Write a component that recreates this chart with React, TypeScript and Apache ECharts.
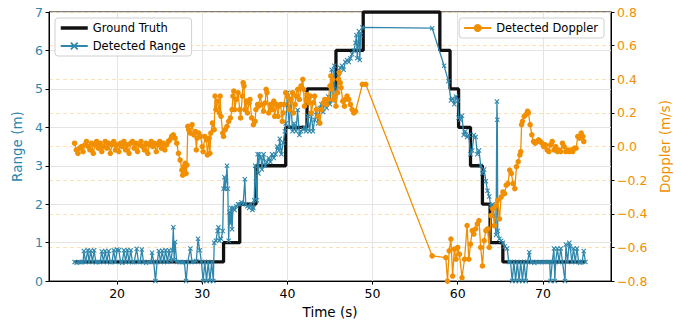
import React, { useEffect, useRef } from 'react';
import * as echarts from 'echarts';

const BLUE = '#2E86AB';
const ORANGE = '#F18F01';
const FONT = 'DejaVu Sans';

// Ground truth: level starts (time, range)
const gtTime = [15, 32.5, 34.4, 36.3, 39.8, 42.3, 45.7, 48.9, 57.9, 59.1, 60.1, 61.5, 62.9, 63.8, 65.3, 75];
const gtLevel = [0.5, 1, 2, 3, 4, 5, 6, 7, 6, 5, 4, 3, 2, 1, 0.5, 0.5];

// Detected range (time s, range m)
const rangeData: [number, number][] = [
  [15.0, 0.5], [15.25, 0.48], [15.5, 0.5], [15.75, 0.49], [16.0, 0.5], [16.1, 0.78], [16.3, 0.5], [16.55, 0.8],
  [16.7, 0.5], [16.9, 0.79], [17.1, 0.5], [17.3, 0.8], [17.5, 0.49], [17.75, 0.5], [18.0, 0.5], [18.2, 0.77],
  [18.4, 0.5], [18.6, 0.78], [18.8, 0.5], [19.0, 0.78], [19.2, 0.49], [19.4, 0.5], [19.6, 0.8], [19.8, 0.5],
  [20.0, 0.82], [20.2, 0.8], [20.4, 0.5], [20.6, 0.48], [20.8, 0.8], [21.0, 0.5], [21.2, 0.81], [21.4, 0.5],
  [21.6, 0.8], [21.8, 0.49], [22.0, 0.5], [22.3, 0.84], [22.5, 0.5], [22.7, 0.5], [22.9, 0.82], [23.1, 0.5],
  [23.4, 0.48], [23.7, 0.5], [24.0, 0.5], [24.1, 0.74], [24.3, 0.5], [24.5, 0.0], [24.7, 0.5], [24.9, 0.78],
  [25.1, 0.5], [25.3, 0.79], [25.5, 0.5], [25.7, 0.8], [25.9, 0.5], [26.1, 0.8], [26.3, 0.52], [26.5, 0.8],
  [26.6, 1.4], [26.7, 0.55], [26.8, 1.02], [27.0, 0.5], [27.3, 0.5], [27.6, 0.49], [27.9, 0.5], [28.1, 0.0],
  [28.3, 0.5], [28.6, 0.85], [28.8, 0.5], [29.1, 0.5], [29.3, 0.52], [29.5, 1.1], [29.7, 0.8], [29.9, 0.5],
  [30.1, 0.0], [30.3, 0.5], [30.5, 0.0], [30.7, 0.5], [30.9, 0.0], [31.1, 0.5], [31.3, 0.0], [31.4, 1.0],
  [31.6, 1.05], [31.8, 1.3], [31.9, 1.4], [32.0, 1.05], [32.2, 1.1], [32.4, 1.3], [32.5, 2.4], [32.6, 2.7],
  [32.7, 2.4], [32.8, 2.6], [32.9, 3.0], [33.0, 2.4], [33.1, 1.05], [33.2, 1.8], [33.3, 1.5], [33.4, 1.9],
  [33.5, 1.35], [33.6, 1.9], [33.8, 1.85], [34.0, 1.95], [34.2, 2.0], [34.4, 2.0], [34.6, 2.05], [34.8, 2.0],
  [35.0, 2.65], [35.1, 2.0], [35.3, 1.95], [35.5, 1.9], [35.7, 2.0], [35.9, 1.85], [36.0, 1.9], [36.1, 2.1],
  [36.2, 3.0], [36.3, 2.6], [36.4, 2.1], [36.5, 3.3], [36.6, 2.8], [36.7, 3.3], [36.9, 3.2], [37.0, 2.9],
  [37.2, 3.3], [37.4, 3.0], [37.6, 3.1], [37.8, 3.2], [38.0, 3.1], [38.2, 3.3], [38.4, 3.2], [38.6, 3.3],
  [38.8, 3.5], [39.0, 3.4], [39.1, 3.7], [39.3, 3.3], [39.5, 3.6], [39.7, 3.9], [39.8, 4.1], [40.0, 4.9],
  [40.2, 4.0], [40.4, 4.7], [40.6, 3.9], [40.8, 4.1], [41.0, 3.9], [41.2, 4.45], [41.4, 3.8], [41.6, 3.9],
  [41.8, 3.95], [42.0, 4.0], [42.2, 3.9], [42.4, 4.3], [42.6, 3.9], [42.8, 4.35], [43.0, 3.9], [43.2, 4.2],
  [43.4, 4.4], [43.6, 4.1], [43.8, 4.5], [44.0, 4.6], [44.2, 4.4], [44.4, 4.7], [44.6, 4.5], [44.8, 4.8],
  [45.0, 4.6], [45.2, 5.5], [45.3, 4.7], [45.5, 5.6], [45.6, 4.8], [45.8, 5.0], [46.0, 5.4], [46.2, 5.55],
  [46.4, 5.6], [46.6, 5.5], [46.8, 5.7], [47.0, 5.75], [47.2, 5.7], [47.4, 5.8], [47.6, 5.9], [47.8, 6.0],
  [48.0, 6.2], [48.1, 6.4], [48.2, 5.8], [48.4, 6.5], [48.5, 5.75], [48.6, 6.4], [48.8, 6.6], [57.0, 6.58],
  [58.4, 5.6], [58.9, 5.2], [59.2, 4.7], [59.4, 4.75], [59.6, 4.6], [59.8, 4.8], [60.0, 4.7], [60.1, 4.25],
  [60.3, 4.2], [60.5, 4.3], [60.7, 3.8], [60.9, 3.9], [61.1, 3.75], [61.3, 3.8], [61.5, 3.3], [61.7, 3.4],
  [61.9, 3.8], [62.1, 3.75], [62.3, 3.3], [62.5, 3.4], [62.7, 3.0], [62.9, 2.8], [63.1, 2.9], [63.3, 2.6],
  [63.5, 2.35], [63.7, 2.2], [63.9, 1.95], [64.1, 2.0], [64.3, 1.7], [64.5, 1.2], [64.6, 4.67], [64.65, 4.2],
  [64.7, 1.3], [64.9, 1.1], [65.1, 1.05], [65.3, 1.0], [65.5, 0.9], [65.8, 0.85], [66.0, 0.5], [66.2, 0.5],
  [66.4, 0.0], [66.6, 0.5], [66.8, 0.0], [67.0, 0.5], [67.2, 0.0], [67.4, 0.5], [67.6, 0.0], [67.8, 0.5],
  [68.0, 0.0], [68.2, 0.5], [68.4, 0.75], [68.6, 0.5], [68.8, 0.5], [69.0, 0.48], [69.3, 0.5], [69.6, 0.5],
  [69.9, 0.49], [70.2, 0.5], [70.5, 0.5], [70.8, 0.5], [70.9, 0.0], [71.1, 0.5], [71.3, 0.85], [71.4, 0.0],
  [71.5, 0.5], [71.7, 0.85], [71.9, 0.5], [72.1, 0.85], [72.3, 0.5], [72.6, 0.0], [72.7, 0.95], [72.9, 0.5],
  [73.1, 1.0], [73.2, 0.9], [73.4, 0.5], [73.6, 0.85], [73.8, 0.5], [74.0, 0.85], [74.2, 0.5], [74.4, 0.48],
  [74.6, 0.5], [74.8, 0.78], [75.0, 0.5],
];

// Detected Doppler (time s, velocity m/s)
const dopplerData: [number, number][] = [
  [15.0, 0.02], [15.2, -0.02], [15.4, -0.04], [15.6, -0.01], [15.8, 0.0], [16.0, -0.03], [16.2, 0.01], [16.4, 0.03],
  [16.6, 0.0], [16.8, -0.02], [17.0, 0.02], [17.2, -0.04], [17.4, 0.01], [17.6, 0.03], [17.8, -0.01], [18.0, 0.02],
  [18.2, -0.03], [18.4, 0.0], [18.6, 0.03], [18.8, -0.01], [19.0, 0.02], [19.2, -0.04], [19.4, 0.01], [19.6, 0.03],
  [19.8, -0.02], [20.0, 0.01], [20.2, -0.03], [20.4, 0.02], [20.6, 0.0], [20.8, 0.03], [21.0, -0.02], [21.2, 0.01],
  [21.4, -0.04], [21.6, 0.02], [21.8, 0.03], [22.0, -0.01], [22.2, 0.02], [22.4, -0.03], [22.6, 0.01], [22.8, 0.03],
  [23.0, 0.0], [23.2, -0.02], [23.4, 0.02], [23.6, -0.04], [23.8, 0.01], [24.0, 0.03], [24.2, 0.0], [24.4, 0.02],
  [24.6, -0.03], [24.8, 0.01], [25.0, 0.03], [25.2, -0.01], [25.4, 0.02], [25.6, -0.02], [25.8, 0.01], [26.0, 0.03],
  [26.2, 0.04], [26.4, 0.06], [26.6, 0.07], [26.8, 0.05], [27.0, 0.02], [27.2, -0.04], [27.4, -0.08], [27.6, -0.14],
  [27.7, -0.17], [27.8, -0.12], [27.9, -0.15], [28.0, -0.1], [28.1, -0.16], [28.2, -0.11], [28.3, 0.12], [28.4, 0.1],
  [28.6, 0.08], [28.8, 0.13], [29.0, 0.07], [29.2, 0.09], [29.3, -0.02], [29.4, 0.05], [29.6, 0.08], [29.8, 0.06],
  [30.0, 0.0], [30.1, -0.03], [30.3, 0.06], [30.5, 0.04], [30.6, -0.05], [30.8, 0.05], [30.9, -0.04], [31.0, 0.08],
  [31.2, 0.14], [31.4, 0.1], [31.5, 0.3], [31.6, 0.22], [31.8, 0.27], [32.0, 0.2], [32.1, 0.3], [32.2, 0.18],
  [32.4, 0.08], [32.5, 0.06], [32.7, 0.1], [32.9, 0.12], [33.1, 0.15], [33.3, 0.17], [33.5, 0.22], [33.6, 0.3],
  [33.7, 0.33], [33.8, 0.22], [34.0, 0.28], [34.2, 0.32], [34.4, 0.22], [34.5, 0.17], [34.7, 0.3], [34.8, 0.38],
  [34.9, 0.36], [35.0, 0.22], [35.2, 0.27], [35.3, 0.2], [35.5, 0.26], [35.6, 0.28], [35.8, 0.17], [36.0, 0.13],
  [36.2, 0.15], [36.3, 0.22], [36.5, 0.25], [36.6, 0.24], [36.8, 0.3], [37.0, 0.25], [37.2, 0.21], [37.4, 0.26],
  [37.5, 0.34], [37.6, 0.32], [37.8, 0.2], [38.0, 0.25], [38.2, 0.22], [38.4, 0.27], [38.5, 0.18], [38.7, 0.25],
  [38.9, 0.18], [39.0, 0.24], [39.2, 0.25], [39.4, 0.15], [39.5, 0.2], [39.6, 0.25], [39.8, 0.32], [40.0, 0.3],
  [40.2, 0.22], [40.4, 0.28], [40.6, 0.32], [40.7, 0.2], [40.9, 0.25], [41.0, 0.3], [41.2, 0.34], [41.4, 0.28],
  [41.6, 0.36], [41.8, 0.4], [41.9, 0.34], [42.0, 0.24], [42.2, 0.28], [42.3, 0.31], [42.5, 0.26], [42.7, 0.3],
  [42.8, 0.2], [43.0, 0.26], [43.2, 0.3], [43.4, 0.22], [43.6, 0.18], [43.8, 0.14], [44.0, 0.22], [44.2, 0.26],
  [44.4, 0.28], [44.6, 0.25], [44.8, 0.28], [45.0, 0.36], [45.1, 0.42], [45.2, 0.34], [45.3, 0.4], [45.4, 0.28],
  [45.5, 0.3], [45.7, 0.24], [45.9, 0.32], [46.0, 0.4], [46.1, 0.44], [46.2, 0.38], [46.3, 0.35], [46.5, 0.27],
  [46.7, 0.24], [46.8, 0.28], [47.0, 0.3], [47.2, 0.28], [47.4, 0.25], [47.6, 0.22], [47.8, 0.2], [48.0, 0.21],
  [48.8, 0.37], [49.2, 0.37], [57.0, -0.65], [58.6, -0.66], [58.8, -0.8], [59.0, -0.62], [59.2, -0.55], [59.4, -0.77],
  [59.6, -0.61], [59.8, -0.67], [60.0, -0.6], [60.2, -0.64], [60.5, -0.78], [60.8, -0.67], [61.1, -0.47], [61.3, -0.67],
  [61.5, -0.58], [61.7, -0.5], [61.9, -0.52], [62.1, -0.49], [62.3, -0.46], [62.5, -0.44], [62.7, -0.6], [62.9, -0.71],
  [63.1, -0.56], [63.3, -0.5], [63.5, -0.49], [63.7, -0.6], [63.9, -0.41], [64.1, -0.37], [64.3, -0.47], [64.5, -0.35],
  [64.7, -0.32], [64.9, -0.43], [65.1, -0.3], [65.3, -0.27], [65.5, -0.28], [65.7, -0.23], [65.9, -0.22], [66.1, -0.14],
  [66.3, -0.16], [66.5, -0.22], [66.7, -0.25], [66.9, -0.12], [67.1, -0.09], [67.3, -0.05], [67.4, -0.03], [67.5, 0.13],
  [67.6, 0.15], [67.8, 0.18], [68.0, 0.19], [68.2, 0.21], [68.3, 0.2], [68.5, 0.13], [68.7, 0.07], [68.9, 0.03],
  [69.1, 0.02], [69.3, 0.03], [69.5, 0.04], [69.7, 0.03], [69.9, 0.02], [70.1, 0.0], [70.3, 0.01], [70.5, -0.02],
  [70.7, -0.03], [70.9, 0.01], [71.1, 0.03], [71.3, -0.02], [71.5, 0.0], [71.7, -0.03], [71.9, -0.02], [72.1, -0.03],
  [72.3, 0.02], [72.5, 0.0], [72.7, -0.03], [72.9, -0.02], [73.1, -0.03], [73.3, -0.02], [73.5, -0.03], [73.7, -0.01],
  [73.9, -0.01], [74.1, 0.06], [74.3, 0.05], [74.5, 0.08], [74.7, 0.06], [74.8, 0.03],
];

const xTicks = [20, 30, 40, 50, 60, 70];

const X_MARK = 'path://M0,1.5L1.5,0L5,3.5L8.5,0L10,1.5L6.5,5L10,8.5L8.5,10L5,6.5L1.5,10L0,8.5L3.5,5Z';

const fmtSigned = (v: number) => {
  const s = Math.abs(v).toFixed(1);
  return v < -1e-9 ? '\u2212' + s : s;
};

export default function App() {
  const ref = useRef<HTMLDivElement>(null);
  useEffect(() => {
    document.body.style.margin = '0';
    if (!ref.current) return;
    const chart = echarts.init(ref.current, undefined, { renderer: 'svg' });
    const gtData = gtTime.map((t, i) => [t, gtLevel[i]]);
    const legendBase = {
      orient: 'vertical',
      top: 18,
      itemWidth: 27,
      itemHeight: 10,
      itemGap: 6,
      padding: [4, 6, 4, 4],
      backgroundColor: 'rgba(255,255,255,0.85)',
      borderColor: '#d0d0d0',
      borderWidth: 1,
      borderRadius: 3,
      textStyle: { fontFamily: FONT, fontSize: 11.5, color: '#000' },
    };
    chart.setOption({
      animation: false,
      backgroundColor: '#ffffff',
      textStyle: { fontFamily: FONT },
      grid: { left: 49, right: 70, top: 12, bottom: 42, show: true, borderColor: '#000', borderWidth: 1, backgroundColor: 'transparent' },
      legend: [
        {
          ...legendBase,
          left: 55,
          data: [
            { name: 'Ground Truth', itemStyle: { opacity: 0 }, lineStyle: { width: 3.5 } },
            { name: 'Detected Range' },
          ],
        },
        {
          ...legendBase,
          right: 77,
          data: ['Detected Doppler'],
        },
      ],
      xAxis: {
        type: 'value',
        min: 12,
        max: 78,
        name: 'Time (s)',
        nameLocation: 'middle',
        nameGap: 23,
        nameTextStyle: { fontFamily: FONT, fontSize: 13.5, color: '#000' },
        axisLine: { show: true, lineStyle: { color: '#000', width: 1 } },
        axisTick: { show: true, length: 3.5, lineStyle: { color: '#000' }, customValues: xTicks },
        axisLabel: { fontFamily: FONT, fontSize: 12.5, color: '#000', margin: 6, customValues: xTicks },
        splitLine: { show: true, lineStyle: { color: '#e4e4e4', width: 1 } },
      },
      yAxis: [
        {
          type: 'value',
          min: 0,
          max: 7,
          interval: 1,
          position: 'left',
          name: 'Range (m)',
          nameLocation: 'middle',
          nameGap: 22,
          nameRotate: 90,
          nameTextStyle: { fontFamily: FONT, fontSize: 13.5, color: BLUE },
          axisLine: { show: true, lineStyle: { color: '#000', width: 1 } },
          axisTick: { show: true, length: 3.5, lineStyle: { color: '#000' } },
          axisLabel: { fontFamily: FONT, fontSize: 12.5, color: BLUE, margin: 6 },
          splitLine: { show: true, lineStyle: { color: '#e4e4e4', width: 1 } },
        },
        {
          type: 'value',
          min: -0.8,
          max: 0.8,
          interval: 0.2,
          position: 'right',
          name: 'Doppler (m/s)',
          nameLocation: 'middle',
          nameGap: 46,
          nameRotate: 90,
          nameTextStyle: { fontFamily: FONT, fontSize: 13.5, color: ORANGE },
          axisLine: { show: true, lineStyle: { color: '#000', width: 1 } },
          axisTick: { show: true, length: 3.5, lineStyle: { color: '#000' } },
          axisLabel: { fontFamily: FONT, fontSize: 12.5, color: ORANGE, margin: 6, formatter: (v: number) => fmtSigned(v) },
          splitLine: { show: true, lineStyle: { color: 'rgba(241,143,1,0.28)', width: 1, type: [4, 3] } },
        },
      ],
      series: [
        {
          name: 'Ground Truth',
          type: 'line',
          yAxisIndex: 0,
          step: 'end',
          data: gtData,
          symbol: 'none',
          lineStyle: { color: '#111', width: 3.3 },
          itemStyle: { color: '#111' },
          z: 2,
        },
        {
          name: 'Detected Range',
          type: 'line',
          yAxisIndex: 0,
          data: rangeData,
          symbol: X_MARK,
          symbolSize: 5,
          showAllSymbol: true,
          lineStyle: { color: BLUE, width: 1.3 },
          itemStyle: { color: BLUE },
          z: 3,
        },
        {
          name: 'Detected Doppler',
          type: 'line',
          yAxisIndex: 1,
          data: dopplerData,
          symbol: 'circle',
          symbolSize: 5.5,
          showAllSymbol: true,
          lineStyle: { color: ORANGE, width: 1.3 },
          itemStyle: { color: ORANGE },
          z: 4,
        },
      ],
    });
    return () => chart.dispose();
  }, []);
  return <div ref={ref} style={{ width: 681, height: 324 }} />;
}
